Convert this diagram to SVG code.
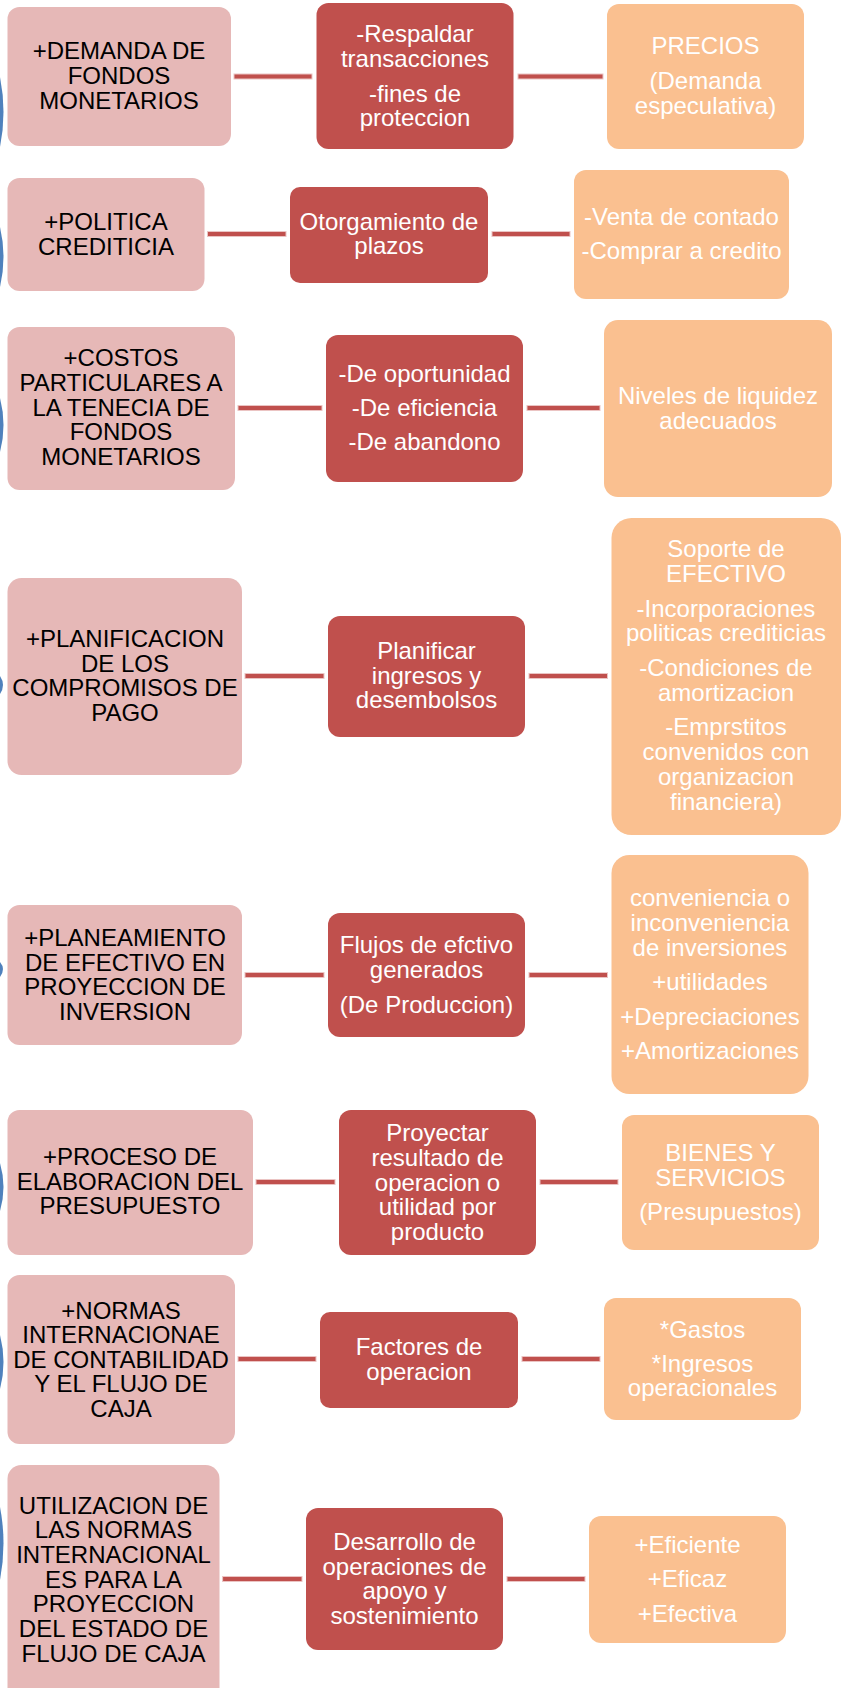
<svg xmlns="http://www.w3.org/2000/svg" width="843" height="1688" viewBox="0 0 843 1688">
<style>
.l{fill:#E6B8B7}
.m{fill:#C0504D}
.r{fill:#FAC090}
text{font-family:"Liberation Sans",Arial,sans-serif;font-size:24px;text-anchor:middle}
.tl{fill:#000}
.tw{fill:#fff}
.c{fill:#C0504D;stroke:#EBC4C3;stroke-width:1}
.b{fill:#4F81BD}
</style>
<rect width="843" height="1688" fill="#fff"/>
<g id="arcs">
<path class="b" d="M0,77 Q7,112 0,147Z"/>
<path class="b" d="M0,227 Q7,257 0,287Z"/>
<path class="b" d="M0,398 Q7,425 0,452Z"/>
<path class="b" d="M0,676 Q6,685 0,694Z"/>
<path class="b" d="M0,962 Q6,969 0,977Z"/>
<path class="b" d="M0,1163 Q7,1187 0,1211Z"/>
<path class="b" d="M0,1335 Q7,1362 0,1389Z"/>
<path class="b" d="M0,1507 Q7,1543 0,1580Z"/>
</g>
<g id="connectors">
<rect class="c" x="234" y="74" width="78" height="5"/>
<rect class="c" x="518" y="74" width="85" height="5"/>
<rect class="c" x="207.5" y="231.5" width="78.5" height="5"/>
<rect class="c" x="492" y="231.5" width="78" height="5"/>
<rect class="c" x="238" y="405.5" width="84" height="5"/>
<rect class="c" x="527" y="405.5" width="73" height="5"/>
<rect class="c" x="245" y="673.5" width="79" height="5"/>
<rect class="c" x="529" y="673.5" width="78.5" height="5"/>
<rect class="c" x="245" y="972.5" width="79" height="5"/>
<rect class="c" x="529" y="972.5" width="78.5" height="5"/>
<rect class="c" x="256" y="1179.5" width="79" height="5"/>
<rect class="c" x="540" y="1179.5" width="78" height="5"/>
<rect class="c" x="238" y="1356.5" width="78" height="5"/>
<rect class="c" x="522" y="1356.5" width="78" height="5"/>
<rect class="c" x="222.6" y="1576.5" width="79.4" height="5"/>
<rect class="c" x="507" y="1576.5" width="78" height="5"/>
</g>
<g id="n1a"><rect class="l" x="7.5" y="7" width="223.5" height="139" rx="12"/>
<text class="tl" x="119" y="59">+DEMANDA DE</text><text class="tl" x="119" y="84">FONDOS</text><text class="tl" x="119" y="109">MONETARIOS</text></g>
<g id="n1b"><rect class="m" x="316.5" y="3" width="197" height="146" rx="12"/>
<text class="tw" x="415" y="42">-Respaldar</text><text class="tw" x="415" y="66.5">transacciones</text><text class="tw" x="415" y="101.5">-fines de</text><text class="tw" x="415" y="125.5">proteccion</text></g>
<g id="n1c"><rect class="r" x="607" y="4" width="197" height="145" rx="12"/>
<text class="tw" x="705.5" y="54">PRECIOS</text><text class="tw" x="705.5" y="89">(Demanda</text><text class="tw" x="705.5" y="113.5">especulativa)</text></g>

<g id="n2a"><rect class="l" x="7.5" y="178" width="197" height="113" rx="12"/>
<text class="tl" x="106" y="230">+POLITICA</text><text class="tl" x="106" y="255">CREDITICIA</text></g>
<g id="n2b"><rect class="m" x="290" y="187" width="198" height="96" rx="10"/>
<text class="tw" x="389" y="230">Otorgamiento de</text><text class="tw" x="389" y="254">plazos</text></g>
<g id="n2c"><rect class="r" x="574" y="170" width="215" height="129" rx="12"/>
<text class="tw" x="681.5" y="225">-Venta de contado</text><text class="tw" x="681.5" y="259">-Comprar a credito</text></g>

<g id="n3a"><rect class="l" x="7.5" y="327" width="227.5" height="163" rx="12"/>
<text class="tl" x="121" y="366">+COSTOS</text><text class="tl" x="121" y="391">PARTICULARES A</text><text class="tl" x="121" y="415.5">LA TENECIA DE</text><text class="tl" x="121" y="440">FONDOS</text><text class="tl" x="121" y="465">MONETARIOS</text></g>
<g id="n3b"><rect class="m" x="326" y="335" width="197" height="147" rx="12"/>
<text class="tw" x="424.5" y="381.5">-De oportunidad</text><text class="tw" x="424.5" y="415.5">-De eficiencia</text><text class="tw" x="424.5" y="450">-De abandono</text></g>
<g id="n3c"><rect class="r" x="604" y="320" width="228" height="177" rx="14"/>
<text class="tw" x="718" y="403.5">Niveles de liquidez</text><text class="tw" x="718" y="428.5">adecuados</text></g>

<g id="n4a"><rect class="l" x="7.5" y="578" width="234.5" height="197" rx="14"/>
<text class="tl" x="125" y="646.5">+PLANIFICACION</text><text class="tl" x="125" y="671.5">DE LOS</text><text class="tl" x="125" y="696">COMPROMISOS DE</text><text class="tl" x="125" y="720.5">PAGO</text></g>
<g id="n4b"><rect class="m" x="328" y="616" width="197" height="121" rx="12"/>
<text class="tw" x="426.5" y="659">Planificar</text><text class="tw" x="426.5" y="683.5">ingresos y</text><text class="tw" x="426.5" y="708">desembolsos</text></g>
<g id="n4c"><rect class="r" x="611.5" y="518" width="229.5" height="317" rx="20"/>
<text class="tw" x="726" y="557">Soporte de</text><text class="tw" x="726" y="581.5">EFECTIVO</text><text class="tw" x="726" y="616.5">-Incorporaciones</text><text class="tw" x="726" y="641">politicas crediticias</text><text class="tw" x="726" y="676">-Condiciones de</text><text class="tw" x="726" y="700.5">amortizacion</text><text class="tw" x="726" y="735">-Emprstitos</text><text class="tw" x="726" y="760">convenidos con</text><text class="tw" x="726" y="785">organizacion</text><text class="tw" x="726" y="809.5">financiera)</text></g>

<g id="n5a"><rect class="l" x="7.5" y="905" width="234.5" height="140" rx="12"/>
<text class="tl" x="125" y="946">+PLANEAMIENTO</text><text class="tl" x="125" y="970.5">DE EFECTIVO EN</text><text class="tl" x="125" y="995">PROYECCION DE</text><text class="tl" x="125" y="1020">INVERSION</text></g>
<g id="n5b"><rect class="m" x="328" y="913" width="197" height="124" rx="12"/>
<text class="tw" x="426.5" y="952.5">Flujos de efctivo</text><text class="tw" x="426.5" y="977.5">generados</text><text class="tw" x="426.5" y="1012.5">(De Produccion)</text></g>
<g id="n5c"><rect class="r" x="611.5" y="855" width="197" height="239" rx="18"/>
<text class="tw" x="710" y="906">conveniencia o</text><text class="tw" x="710" y="931">inconveniencia</text><text class="tw" x="710" y="956">de inversiones</text><text class="tw" x="710" y="989.5">+utilidades</text><text class="tw" x="710" y="1024.5">+Depreciaciones</text><text class="tw" x="710" y="1058.5">+Amortizaciones</text></g>

<g id="n6a"><rect class="l" x="7.5" y="1110" width="245.5" height="145" rx="12"/>
<text class="tl" x="130" y="1165">+PROCESO DE</text><text class="tl" x="130" y="1189.5">ELABORACION DEL</text><text class="tl" x="130" y="1214">PRESUPUESTO</text></g>
<g id="n6b"><rect class="m" x="339" y="1110" width="197" height="145" rx="12"/>
<text class="tw" x="437.5" y="1140.5">Proyectar</text><text class="tw" x="437.5" y="1165.5">resultado de</text><text class="tw" x="437.5" y="1190.5">operacion o</text><text class="tw" x="437.5" y="1215">utilidad por</text><text class="tw" x="437.5" y="1239.5">producto</text></g>
<g id="n6c"><rect class="r" x="622" y="1115" width="197" height="135" rx="12"/>
<text class="tw" x="720.5" y="1161">BIENES Y</text><text class="tw" x="720.5" y="1185.5">SERVICIOS</text><text class="tw" x="720.5" y="1220">(Presupuestos)</text></g>

<g id="n7a"><rect class="l" x="7.5" y="1275" width="227.5" height="169" rx="12"/>
<text class="tl" x="121" y="1318.5">+NORMAS</text><text class="tl" x="121" y="1343">INTERNACIONAE</text><text class="tl" x="121" y="1367.5">DE CONTABILIDAD</text><text class="tl" x="121" y="1392">Y EL FLUJO DE</text><text class="tl" x="121" y="1416.5">CAJA</text></g>
<g id="n7b"><rect class="m" x="320" y="1312" width="198" height="96" rx="10"/>
<text class="tw" x="419" y="1355">Factores de</text><text class="tw" x="419" y="1379.5">operacion</text></g>
<g id="n7c"><rect class="r" x="604" y="1298" width="197" height="122" rx="12"/>
<text class="tw" x="702.5" y="1337.5">*Gastos</text><text class="tw" x="702.5" y="1371.5">*Ingresos</text><text class="tw" x="702.5" y="1396">operacionales</text></g>

<g id="n8a"><rect class="l" x="7.5" y="1465" width="212" height="240" rx="14"/>
<text class="tl" x="113.5" y="1513.5">UTILIZACION DE</text><text class="tl" x="113.5" y="1538">LAS NORMAS</text><text class="tl" x="113.5" y="1562.5">INTERNACIONAL</text><text class="tl" x="113.5" y="1587.5">ES PARA LA</text><text class="tl" x="113.5" y="1612">PROYECCION</text><text class="tl" x="113.5" y="1637">DEL ESTADO DE</text><text class="tl" x="113.5" y="1661.5">FLUJO DE CAJA</text></g>
<g id="n8b"><rect class="m" x="306" y="1508" width="197" height="142" rx="12"/>
<text class="tw" x="404.5" y="1550">Desarrollo de</text><text class="tw" x="404.5" y="1574.5">operaciones de</text><text class="tw" x="404.5" y="1599">apoyo y</text><text class="tw" x="404.5" y="1624">sostenimiento</text></g>
<g id="n8c"><rect class="r" x="589" y="1516" width="197" height="127" rx="12"/>
<text class="tw" x="687.5" y="1552.5">+Eficiente</text><text class="tw" x="687.5" y="1587">+Eficaz</text><text class="tw" x="687.5" y="1621.5">+Efectiva</text></g>
</svg>
